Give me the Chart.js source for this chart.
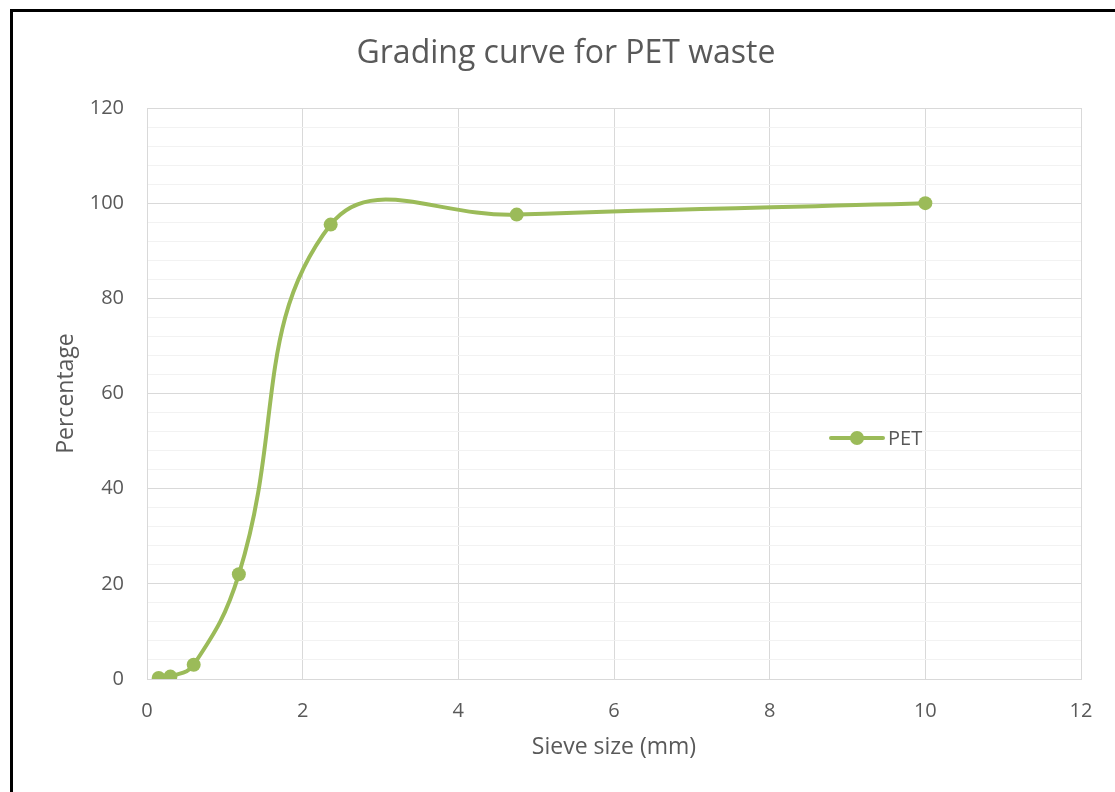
<!DOCTYPE html>
<html><head><meta charset="utf-8">
<script src="https://cdn.jsdelivr.net/npm/chart.js@4/dist/chart.umd.min.js"></script>
<style>
html,body{margin:0;padding:0;background:#fff;overflow:hidden;}
#wrap{position:relative;width:1115px;height:792px;}
#frame{position:absolute;left:10px;top:9px;width:1105px;height:783px;border-left:3px solid #000;border-top:3px solid #000;pointer-events:none;}
canvas{position:absolute;left:0;top:0;}
</style></head><body>
<div id="wrap"><canvas id="c" width="1115" height="792"></canvas><div id="frame"></div></div>
<script>
// Data
const sieveSizes = [0.15, 0.3, 0.6, 1.18, 2.36, 4.75, 10];
const percentPassing = [0.2, 0.5, 3.0, 22.0, 95.5, 97.6, 100];
const seriesName = 'PET';
const yMajorTicks = [0, 20, 40, 60, 80, 100, 120];
const xTicks = [0, 2, 4, 6, 8, 10, 12];

const GREEN = '#9bbb59';
const TEXT = '#595959';
Chart.defaults.font.family = "'Open Sans', sans-serif";
Chart.defaults.color = TEXT;

const legendPlugin = {
  id: 'insideLegend',
  afterDraw(chart) {
    const ctx = chart.ctx;
    const y = 438;
    ctx.save();
    ctx.strokeStyle = GREEN;
    ctx.lineWidth = 4;
    ctx.lineCap = 'round';
    ctx.beginPath(); ctx.moveTo(831, y); ctx.lineTo(883, y); ctx.stroke();
    ctx.fillStyle = GREEN;
    ctx.beginPath(); ctx.arc(857, y, 7, 0, Math.PI * 2); ctx.fill();
    ctx.fillStyle = TEXT;
    ctx.font = "20px 'Open Sans', sans-serif";
    ctx.textBaseline = 'middle';
    ctx.textAlign = 'left';
    ctx.fillText(chart.data.datasets[0].label, 888, y + 1);
    ctx.restore();
  }
};

new Chart(document.getElementById('c'), {
  type: 'scatter',
  data: {
    datasets: [{
      label: seriesName,
      data: sieveSizes.map((x, i) => ({ x, y: percentPassing[i] })),
      showLine: true,
      borderColor: GREEN,
      backgroundColor: GREEN,
      borderWidth: 4,
      pointRadius: 7,
      pointBackgroundColor: GREEN,
      pointBorderWidth: 0,
      tension: 0.42
    }]
  },
  options: {
    responsive: false,
    animation: false,
    devicePixelRatio: 1,
    layout: { padding: { left: 51, right: 34, top: 0, bottom: 0 } },
    plugins: {
      legend: { display: false },
      tooltip: { enabled: false },
      title: {
        display: true,
        text: 'Grading curve for PET waste',
        color: TEXT,
        font: { size: 32, weight: 'normal' },
        padding: { top: 35, bottom: 34.6 }
      }
    },
    scales: {
      x: {
        type: 'linear',
        min: xTicks[0], max: xTicks[xTicks.length - 1],
        afterBuildTicks: s => { s.ticks = xTicks.map(v => ({ value: v })); },
        ticks: { color: TEXT, font: { size: 20 }, padding: 20, maxRotation: 0 },
        grid: { color: '#d9d9d9', drawTicks: false, lineWidth: 1 },
        border: { color: '#d9d9d9' },
        title: { display: true, text: 'Sieve size (mm)', color: TEXT, font: { size: 23 }, padding: { top: 0, bottom: 31 } },
        afterFit: s => { s.height = 113; }
      },
      y: {
        min: 0, max: 120,
        ticks: {
          stepSize: 4, autoSkip: false, color: TEXT, font: { size: 20 }, padding: 23,
          callback: v => yMajorTicks.includes(v) ? String(v) : ''
        },
        grid: {
          drawTicks: false,
          color: c => (c.tick && yMajorTicks.includes(c.tick.value)) ? '#d9d9d9' : '#f2f2f2',
          lineWidth: 1
        },
        border: { color: '#d9d9d9' },
        title: { display: true, text: 'Percentage', color: TEXT, font: { size: 23 }, padding: { top: 2, bottom: 0 } },
        afterFit: s => { s.width = 96; }
      }
    }
  },
  plugins: [legendPlugin]
});
</script>
</body></html>
